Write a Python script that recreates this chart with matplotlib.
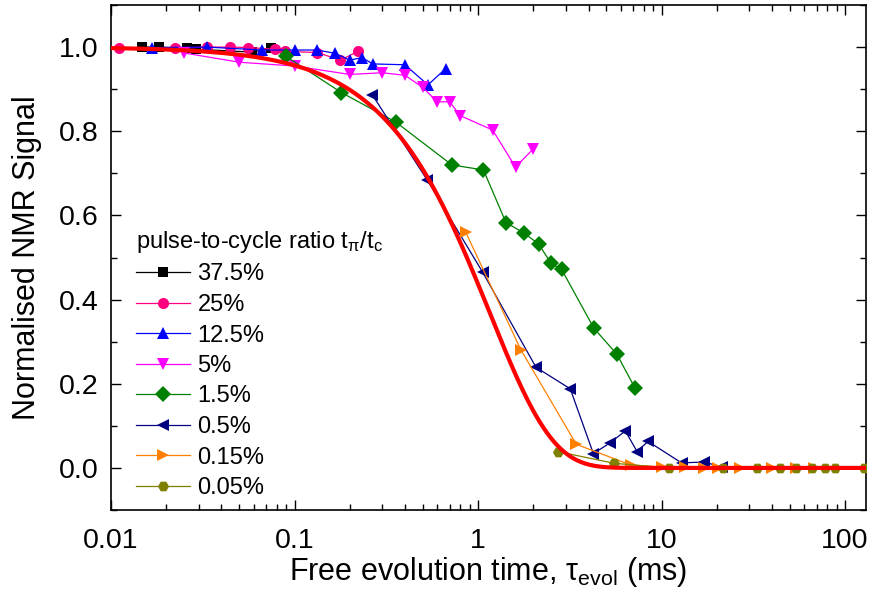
import numpy as np
import matplotlib
matplotlib.use("Agg")
import matplotlib.pyplot as plt
from matplotlib.ticker import LogLocator, MultipleLocator, FixedLocator, FixedFormatter, NullFormatter

plt.rcParams['font.family'] = ['Liberation Sans', 'DejaVu Sans']
plt.rcParams['mathtext.fontset'] = 'custom'
plt.rcParams['mathtext.rm'] = 'Liberation Sans'
plt.rcParams['mathtext.it'] = 'Liberation Sans:italic'

# ---- data ----
labels = ["37.5%", "25%", "12.5%", "5%", "1.5%", "0.5%", "0.15%", "0.05%"]

x_375 = [0.0148, 0.0183, 0.026, 0.0291, 0.059, 0.074]
y_375 = [1.0, 1.0, 0.997, 0.995, 0.988, 0.997]

x_25 = [0.0111, 0.0222, 0.0333, 0.0444, 0.0556, 0.0778, 0.0889, 0.133, 0.178, 0.222]
y_25 = [0.997, 0.997, 1.0, 1.0, 0.999, 0.995, 0.99, 0.987, 0.969, 0.99]

x_125 = [0.0167, 0.0333, 0.0667, 0.1, 0.133, 0.167, 0.2, 0.233, 0.267, 0.4, 0.533, 0.667]
y_125 = [0.999, 1.0, 0.993, 0.993, 0.993, 0.985, 0.969, 0.975, 0.960, 0.958, 0.910, 0.949]

x_5 = [0.025, 0.05, 0.1, 0.2, 0.3, 0.4, 0.5, 0.6, 0.7, 0.8, 1.2, 1.6, 2.0]
y_5 = [0.986, 0.964, 0.955, 0.935, 0.939, 0.933, 0.904, 0.870, 0.870, 0.837, 0.803, 0.715, 0.758]

x_15 = [0.0898, 0.18, 0.356, 0.72, 1.07, 1.42, 1.78, 2.14, 2.5, 2.85, 4.28, 5.71, 7.14]
y_15 = [0.978, 0.892, 0.822, 0.72, 0.708, 0.583, 0.558, 0.532, 0.486, 0.472, 0.332, 0.270, 0.191]

x_05 = [0.265, 0.53, 1.06, 2.07, 3.18, 4.25, 5.26, 6.35, 7.35, 8.44, 12.85, 17.1, 21.3]
y_05 = [0.887, 0.683, 0.465, 0.239, 0.188, 0.034, 0.060, 0.088, 0.039, 0.063, 0.012, 0.014, 0.002]

x_015 = [0.857, 1.71, 3.43, 6.8, 10.0, 13.4, 17.1, 20.3, 26.8, 40.0, 53.7, 68.0]
y_015 = [0.560, 0.281, 0.056, 0.007, 0.002, 0.001, 0.0, 0.0, 0.0, 0.0, 0.0, 0.0]

x_005 = [2.74, 5.52, 11.0, 21.7, 33.0, 44.1, 54.3, 66.4, 77.4, 87.9, 127.0]
y_005 = [0.0385, 0.011, 0.0, 0.0, 0.0, 0.0, 0.0, 0.0, 0.0, 0.0, 0.0]

# stretched-exponential fit parameters (red curve)
FIT_T = 1.16     # ms
FIT_BETA = 1.27

x_ticks = [0.01, 0.1, 1, 10, 100]
x_ticklabels = ["0.01", "0.1", "1", "10", "100"]
y_ticks = [0.0, 0.2, 0.4, 0.6, 0.8, 1.0]
y_ticklabels = ["0.0", "0.2", "0.4", "0.6", "0.8", "1.0"]

# ---- styles ----
series = [
    (x_375, y_375, 's', '#000000', 6.5),
    (x_25, y_25, 'o', '#FF0080', 8.0),
    (x_125, y_125, '^', '#0000FF', 9.0),
    (x_5, y_5, 'v', '#FF00FF', 9.0),
    (x_15, y_15, 'D', '#008000', 8.0),
    (x_05, y_05, '<', '#000080', 9.0),
    (x_015, y_015, '>', '#FF8000', 9.0),
    (x_005, y_005, 'H', '#808000', 8.0),
]

fig = plt.figure(figsize=(8.69, 5.98), dpi=100)
ax = fig.add_axes([111/869, 1-510/598, (866-111)/869, (510-5)/598])

for (xs, ys, mk, col, ms), lab in zip(series, labels):
    ax.plot(xs, ys, marker=mk, color=col, markersize=ms, linewidth=0.9,
            markeredgewidth=0, label=lab, zorder=3)

t = np.logspace(-2, np.log10(140), 600)
ax.plot(t, np.exp(-(t / FIT_T) ** FIT_BETA), color='#FF0000', linewidth=3.0, zorder=5)

ax.set_xscale('log')
ax.set_xlim(0.01, 130)
ax.set_ylim(-0.1, 1.1)

ax.xaxis.set_major_locator(FixedLocator(x_ticks))
ax.xaxis.set_major_formatter(FixedFormatter(x_ticklabels))
ax.xaxis.set_minor_locator(LogLocator(base=10, subs=np.arange(2, 10)))
ax.xaxis.set_minor_formatter(NullFormatter())
ax.yaxis.set_major_locator(FixedLocator(y_ticks))
ax.yaxis.set_major_formatter(FixedFormatter(y_ticklabels))
ax.yaxis.set_minor_locator(MultipleLocator(0.1))

ax.tick_params(which='both', direction='in', top=True, right=True, width=1.0)
ax.tick_params(which='major', length=7, labelsize=20.5)
ax.tick_params(axis='x', which='major', pad=13)
ax.tick_params(axis='y', which='major', pad=9)
ax.tick_params(which='minor', length=4)
for s in ax.spines.values():
    s.set_linewidth(1.2)

ax.set_xlabel(r"Free evolution time, $\mathrm{τ_{evol}}$ (ms)", fontsize=22, labelpad=1)
ax.set_ylabel("Normalised NMR Signal", fontsize=22, labelpad=12)

leg = ax.legend(loc='upper left', bbox_to_anchor=((136-111)/755, (510-229)/505),
                frameon=False, fontsize=17, title=r"pulse-to-cycle ratio t$_\mathrm{π}$/t$_\mathrm{c}$",
                title_fontsize=17, alignment='left', borderpad=0, borderaxespad=0,
                handlelength=2.3, handletextpad=0.3, labelspacing=0.36)

fig.savefig("out.png", dpi=100)
